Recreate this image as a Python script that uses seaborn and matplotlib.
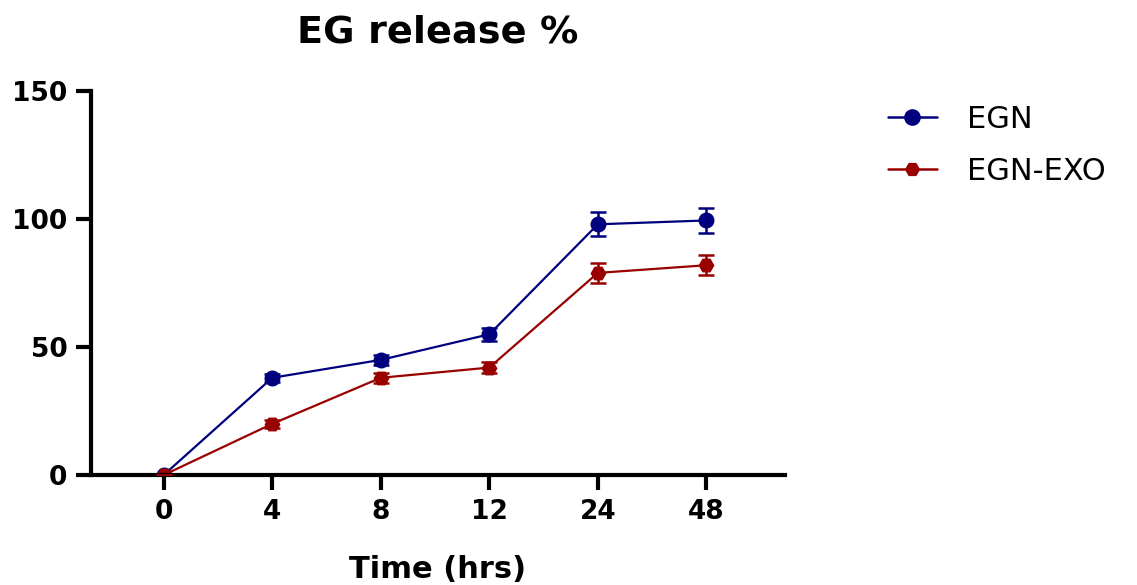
import numpy as np
import pandas as pd
import matplotlib
matplotlib.use("Agg")
import matplotlib.pyplot as plt
from matplotlib.lines import Line2D
import seaborn as sns

# Data
time_labels = ["0", "4", "8", "12", "24", "48"]
egn_mean = [0, 38, 45, 55, 98, 99.5]
egn_sd = [0, 1.5, 2.0, 2.5, 4.7, 5.0]
exo_mean = [0, 20, 38, 42, 79, 82]
exo_sd = [0, 1.5, 2.0, 2.0, 3.8, 4.0]

sns.set_theme(style="white")
plt.rcParams['font.family'] = ['DejaVu Sans']
plt.rcParams['text.color'] = 'black'
plt.rcParams['axes.labelcolor'] = 'black'
plt.rcParams['xtick.color'] = 'black'
plt.rcParams['ytick.color'] = 'black'

pos = np.arange(len(time_labels))
df = pd.concat([
    pd.DataFrame({"pos": pos, "release": egn_mean, "group": "EGN"}),
    pd.DataFrame({"pos": pos, "release": exo_mean, "group": "EGN-EXO"}),
])

colors = {"EGN": "#00007f", "EGN-EXO": "#990000"}
markers = {"EGN": "o", "EGN-EXO": "H"}
msize = {"EGN": 12, "EGN-EXO": 11}

fig = plt.figure(figsize=(11.37, 5.85), dpi=100)
ax = fig.add_axes([0.080, 0.188, 0.610, 0.656])

sns.lineplot(data=df, x="pos", y="release", hue="group", style="group",
             palette=colors, markers=markers, dashes=False, markersize=11.5,
             markeredgewidth=0, linewidth=1.6, ax=ax, legend=False)

for name, m, s in [("EGN", egn_mean, egn_sd), ("EGN-EXO", exo_mean, exo_sd)]:
    ax.errorbar(pos, m, yerr=s, fmt="none", ecolor=colors[name],
                elinewidth=1.8, capsize=5.5, capthick=1.8, zorder=3)

ax.set_xlim(-0.67, 5.72)
ax.set_ylim(0, 150)
ax.set_yticks([0, 50, 100, 150])
ax.set_xticks(pos)
ax.set_xticklabels(time_labels)

for side in ["top", "right"]:
    ax.spines[side].set_visible(False)
for side in ["left", "bottom"]:
    ax.spines[side].set_linewidth(3)
    ax.spines[side].set_color("black")

ax.tick_params(axis="both", which="major", length=11, width=3, color="black",
               direction="out", labelsize=19, pad=6,
               bottom=True, left=True)
for lab in ax.get_xticklabels() + ax.get_yticklabels():
    lab.set_fontweight("bold")

ax.set_xlabel("Time (hrs)", fontsize=22, fontweight="bold")
ax.xaxis.set_label_coords(0.5, -0.268)
ax.xaxis.label.set_verticalalignment("baseline")
ax.set_ylabel("")
ax.set_title("EG release %", fontsize=27.5, fontweight="bold", pad=35)

handles = [Line2D([], [], color=colors[g], marker=markers[g], markersize=msize[g],
                  markeredgewidth=0, linewidth=1.8) for g in ["EGN", "EGN-EXO"]]
fig.legend(handles, ["EGN", "EGN-EXO"], loc="upper left",
           bbox_to_anchor=(0.781, 0.821), frameon=False, fontsize=22,
           borderpad=0, borderaxespad=0,
           handlelength=1.6, handletextpad=1.0, labelspacing=0.76)

fig.savefig("out.png", dpi=100)
